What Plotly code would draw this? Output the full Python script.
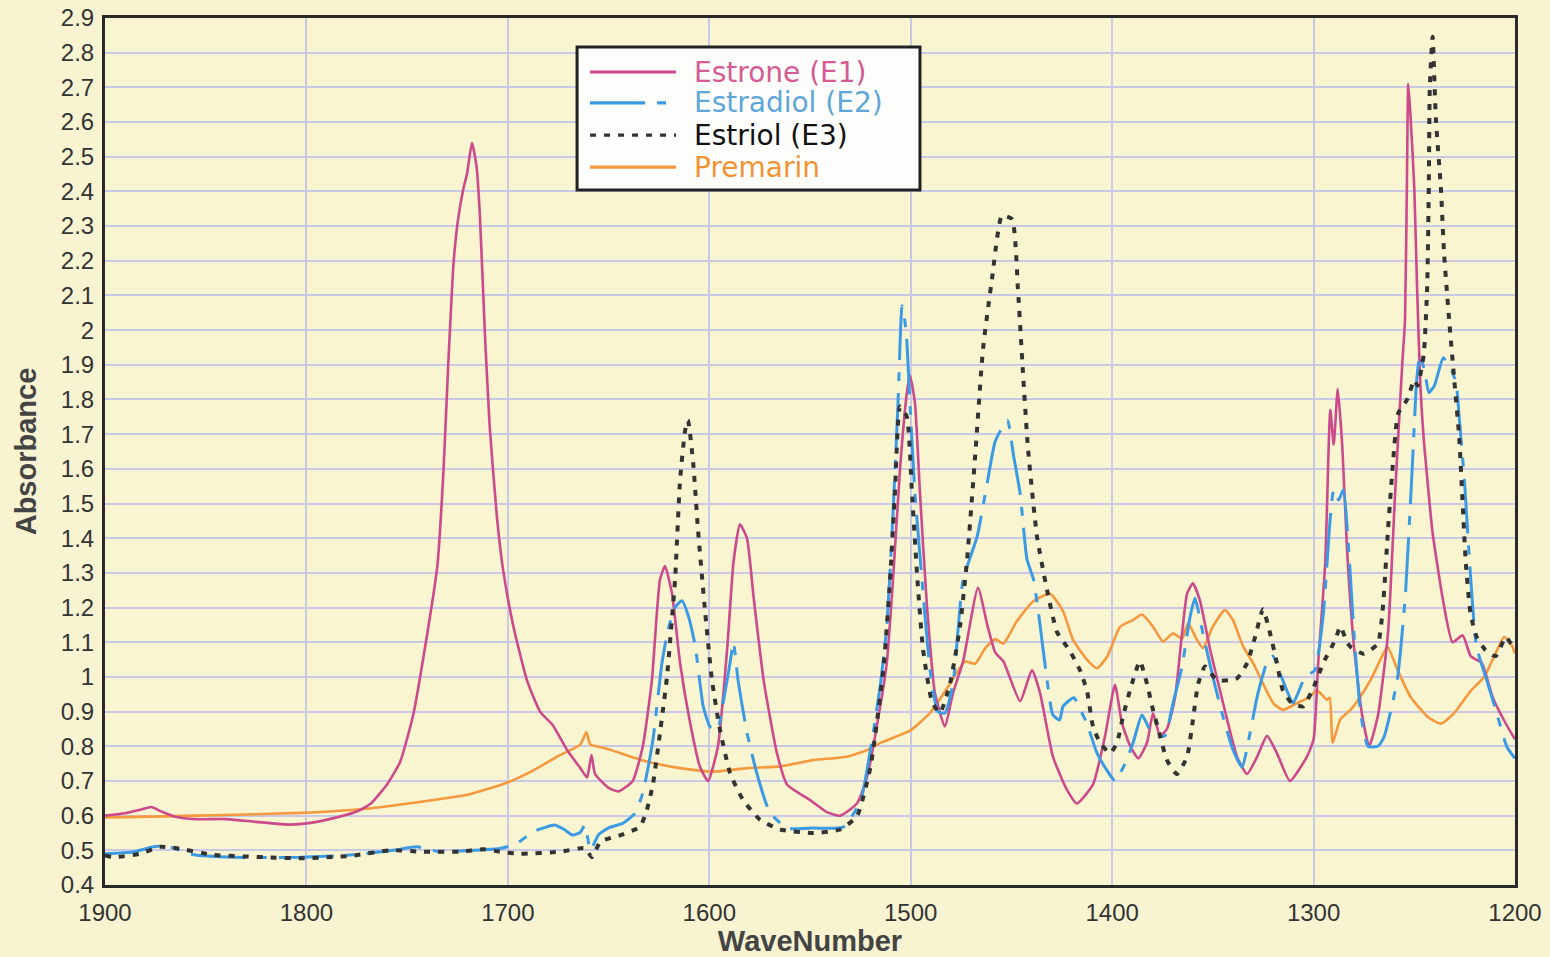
import plotly.graph_objects as go

# ---------------- data ----------------
e1_wn = [1900, 1890, 1882, 1877, 1872, 1865, 1855, 1840, 1825, 1808, 1795, 1785, 1775, 1768, 1760,
         1753.5, 1747, 1740, 1735, 1732, 1729.6, 1727, 1724.7, 1722, 1720.3, 1717.8, 1715.5, 1713.8,
         1711.4, 1709, 1705.4, 1702.4, 1697.4, 1690.5, 1684, 1677.6, 1670.7, 1664, 1660.7, 1658.5,
         1656.7, 1650, 1645, 1638, 1633, 1628.5, 1624.5, 1622, 1618.5, 1614.5, 1609.6, 1604.6, 1600.6,
         1595.7, 1591, 1588, 1584.8, 1581.3, 1578, 1573, 1566.4, 1561.4, 1550, 1541.6, 1535, 1526.7,
         1521.7, 1515, 1511.8, 1508.8, 1505.3, 1501.9, 1500.4, 1497.9, 1495.4, 1492, 1488, 1483, 1479,
         1474, 1466.6, 1462, 1458, 1454, 1445.7, 1439.8, 1435.8, 1429.4, 1422.4, 1417.5, 1409.5, 1403.5,
         1398.6, 1395.1, 1391, 1387, 1382.7, 1379.7, 1376.2, 1372.8, 1368.8, 1365.3, 1362.8, 1359.9,
         1356.4, 1351.4, 1344.9, 1338, 1333, 1328, 1323.1, 1318.2, 1311.7, 1303.3, 1300, 1297.7, 1294.2,
         1291.7, 1290, 1288, 1285.7, 1283.4, 1280, 1275.9, 1272.4, 1268, 1263, 1259.6, 1256, 1254.6,
         1253.5, 1253, 1251.8, 1250, 1248.6, 1247, 1245.5, 1244, 1241, 1236, 1231, 1226, 1222, 1216.5,
         1211, 1205, 1200]
e1_abs = [0.600, 0.607, 0.618, 0.625, 0.612, 0.597, 0.590, 0.590, 0.582, 0.574, 0.582, 0.595, 0.612,
          0.635, 0.690, 0.755, 0.890, 1.125, 1.32, 1.59, 1.90, 2.19, 2.32, 2.41, 2.45, 2.54, 2.47, 2.32,
          1.99, 1.72, 1.46, 1.31, 1.15, 0.99, 0.90, 0.86, 0.79, 0.737, 0.71, 0.775, 0.72, 0.68, 0.67,
          0.70, 0.80, 0.99, 1.28, 1.32, 1.24, 1.04, 0.87, 0.74, 0.70, 0.80, 1.09, 1.33, 1.44, 1.40, 1.23,
          0.99, 0.78, 0.69, 0.645, 0.61, 0.60, 0.635, 0.71, 0.92, 1.045, 1.28, 1.60, 1.82, 1.87, 1.79,
          1.53, 1.21, 0.954, 0.857, 0.954, 1.045, 1.257, 1.15, 1.07, 1.045, 0.93, 1.02, 0.954, 0.77,
          0.674, 0.635, 0.69, 0.83, 0.977, 0.866, 0.80, 0.765, 0.81, 0.895, 0.83, 0.85, 0.94, 1.125,
          1.24, 1.27, 1.22, 1.08, 0.924, 0.77, 0.72, 0.77, 0.83, 0.78, 0.70, 0.77, 0.82, 1.04, 1.33,
          1.77, 1.67, 1.83, 1.66, 1.37, 1.09, 0.89, 0.80, 0.89, 1.13, 1.52, 1.90, 2.03, 2.51, 2.71, 2.61,
          2.41, 2.12, 1.84, 1.70, 1.60, 1.42, 1.23, 1.10, 1.12, 1.06, 1.04, 0.94, 0.87, 0.82]

e2_wn = [1900, 1886, 1876, 1869, 1856, 1836, 1803, 1777, 1757, 1745, 1734, 1717, 1704, 1696, 1687.5,
         1682, 1677, 1672, 1668, 1664, 1661.7, 1659, 1655, 1650, 1642.8, 1636.9, 1633, 1628, 1623.5,
         1620.5, 1617, 1613.6, 1610.6, 1607, 1603, 1599.6, 1596, 1593, 1589.7, 1588, 1585.7, 1581.3,
         1576.3, 1570, 1561.4, 1548.5, 1533.6, 1525, 1520, 1515, 1511.8, 1508.8, 1506.3, 1504.3, 1502.3,
         1500.4, 1497.9, 1494.4, 1490.4, 1486.5, 1483, 1479, 1474, 1467, 1462, 1458, 1452, 1449, 1445.7,
         1442.3, 1439, 1435.8, 1432.3, 1429.4, 1426, 1424.4, 1419, 1414.5, 1412.5, 1407.5, 1402.5,
         1398.6, 1393.6, 1389.6, 1385.2, 1381.2, 1377.7, 1373.8, 1369.8, 1365.3, 1361.3, 1358.9, 1354.9,
         1350, 1345, 1340, 1335.5, 1331.6, 1327.6, 1322.6, 1320.1, 1316.6, 1313.2, 1310.2, 1304.2,
         1299.3, 1295.2, 1291.7, 1290, 1287.6, 1285.2, 1282.6, 1280, 1276.6, 1273, 1268, 1265, 1258.5,
         1254.5, 1251.3, 1248.8, 1247.2, 1244.6, 1242.8, 1240, 1235.6, 1231.6, 1229.2, 1227.6, 1225.1,
         1222.5, 1219.1, 1214, 1209, 1204, 1200]
e2_abs = [0.490, 0.495, 0.510, 0.512, 0.487, 0.480, 0.480, 0.487, 0.500, 0.510, 0.496, 0.500, 0.505,
          0.518, 0.554, 0.565, 0.573, 0.560, 0.544, 0.552, 0.573, 0.500, 0.545, 0.565, 0.578, 0.607,
          0.665, 0.818, 1.04, 1.135, 1.20, 1.22, 1.18, 1.09, 0.915, 0.856, 0.847, 0.93, 1.04, 1.10, 0.99,
          0.84, 0.72, 0.61, 0.564, 0.564, 0.567, 0.64, 0.79, 0.98, 1.15, 1.47, 1.79, 2.07, 2.00, 1.79,
          1.53, 1.28, 1.02, 0.90, 0.896, 0.98, 1.28, 1.405, 1.56, 1.68, 1.74, 1.64, 1.53, 1.34, 1.28,
          1.15, 0.99, 0.89, 0.876, 0.915, 0.94, 0.89, 0.866, 0.78, 0.73, 0.70, 0.75, 0.81, 0.89, 0.847,
          0.83, 0.83, 0.924, 1.03, 1.174, 1.227, 1.125, 1.00, 0.886, 0.79, 0.74, 0.837, 0.953, 1.05, 1.06,
          1.01, 0.96, 0.924, 1.00, 1.02, 1.18, 1.46, 1.54, 1.51, 1.54, 1.37, 1.13, 0.894, 0.80, 0.80,
          0.827, 0.99, 1.23, 1.57, 1.856, 1.93, 1.875, 1.82, 1.84, 1.92, 1.885, 1.846, 1.74, 1.567, 1.327,
          1.087, 0.99, 0.894, 0.798, 0.765]

e3_wn = [1900, 1896, 1882.6, 1872.7, 1864.3, 1846.4, 1819.6, 1803, 1778, 1758.5, 1742, 1723.8, 1712,
         1704, 1694, 1674, 1661.7, 1658.3, 1654, 1644, 1634.4, 1631, 1628, 1624.5, 1621, 1619.5, 1617,
         1614.5, 1612, 1610.6, 1608, 1605.6, 1602, 1598.7, 1594.7, 1589.7, 1583.3, 1574.8, 1564.9,
         1548.5, 1535, 1526.7, 1520, 1513.6, 1510.3, 1507.8, 1505.3, 1501.9, 1499.4, 1496.9, 1493.9,
         1489.4, 1485.5, 1480.5, 1475.5, 1472, 1468, 1464.1, 1459.6, 1454.7, 1449.7, 1446.7, 1444.3,
         1441.8, 1437.3, 1432.3, 1427.4, 1421, 1416, 1412.5, 1409.5, 1406, 1401, 1397.6, 1394.6, 1390.2,
         1386.2, 1382.7, 1379.7, 1376.2, 1372.8, 1367.8, 1362.8, 1359.9, 1357.3, 1353.9, 1347.9, 1338,
         1333, 1329, 1325.1, 1321.6, 1318.2, 1315.2, 1310.7, 1305.2, 1300, 1295.2, 1289.2, 1286.7,
         1283.4, 1281.7, 1275.1, 1268.1, 1265.6, 1263.1, 1260.6, 1258, 1253.5, 1250, 1248.4, 1245.3,
         1243.6, 1242.8, 1242.3, 1240.9, 1239.3, 1236.8, 1235.2, 1232.7, 1230.2, 1227.7, 1224.4, 1222,
         1219, 1214.6, 1209.6, 1204.6, 1202, 1200]
e3_abs = [0.485, 0.480, 0.490, 0.510, 0.506, 0.487, 0.480, 0.477, 0.484, 0.500, 0.496, 0.496, 0.503,
          0.496, 0.490, 0.496, 0.506, 0.480, 0.525, 0.544, 0.568, 0.616, 0.69, 0.837, 1.0, 1.10, 1.28,
          1.568, 1.71, 1.74, 1.617, 1.424, 1.184, 0.992, 0.848, 0.723, 0.646, 0.588, 0.56, 0.55, 0.56,
          0.598, 0.74, 1.02, 1.276, 1.534, 1.78, 1.75, 1.534, 1.30, 1.08, 0.928, 0.896, 0.98, 1.147, 1.34,
          1.637, 1.946, 2.15, 2.33, 2.32, 2.11, 1.88, 1.66, 1.405, 1.25, 1.13, 1.075, 1.02, 0.96, 0.857,
          0.81, 0.78, 0.81, 0.886, 0.98, 1.045, 0.98, 0.905, 0.83, 0.76, 0.72, 0.77, 0.876, 0.98, 1.03,
          0.99, 0.996, 1.04, 1.116, 1.195, 1.126, 1.04, 0.96, 0.924, 0.915, 0.97, 1.04, 1.107, 1.145,
          1.10, 1.087, 1.067, 1.096, 1.20, 1.42, 1.615, 1.76, 1.80, 1.856, 1.84, 1.93, 2.125, 2.41, 2.70,
          2.846, 2.61, 2.41, 2.22, 2.03, 1.86, 1.69, 1.327, 1.18, 1.115, 1.077, 1.06, 1.115, 1.096, 1.08]

pm_wn = [1900, 1870, 1840, 1803, 1770, 1737, 1720, 1700.5, 1687.5, 1674, 1664, 1661, 1659, 1652, 1644,
         1631, 1614.5, 1598, 1581.3, 1565, 1548.5, 1531.6, 1521.7, 1515, 1500.4, 1490.4, 1482, 1473,
         1468, 1463, 1458, 1454, 1447.4, 1439.2, 1430.8, 1424.4, 1419.4, 1412.5, 1407.5, 1402.5, 1396,
         1389.6, 1385.2, 1379.7, 1374.8, 1369.8, 1365.3, 1362.3, 1357.9, 1354.9, 1350, 1344, 1340, 1335,
         1330, 1325, 1320, 1315.2, 1308.3, 1301.8, 1298.4, 1293.4, 1292, 1290.5, 1286.7, 1281.7, 1278.3,
         1271.8, 1266.8, 1263.3, 1258.3, 1251.8, 1243.4, 1236.9, 1230.4, 1222, 1215.3, 1210.4, 1205.4,
         1202, 1200]
pm_abs = [0.595, 0.598, 0.602, 0.608, 0.620, 0.645, 0.660, 0.695, 0.730, 0.775, 0.805, 0.84, 0.805,
          0.795, 0.78, 0.756, 0.737, 0.727, 0.737, 0.742, 0.76, 0.77, 0.789, 0.81, 0.845, 0.896, 0.967,
          1.044, 1.038, 1.083, 1.109, 1.096, 1.16, 1.218, 1.24, 1.19, 1.107, 1.05, 1.025, 1.058, 1.145,
          1.164, 1.18, 1.145, 1.102, 1.126, 1.11, 1.155, 1.107, 1.083, 1.145, 1.193, 1.164, 1.088, 1.04,
          0.98, 0.924, 0.905, 0.924, 0.943, 0.962, 0.934, 0.94, 0.81, 0.878, 0.905, 0.93, 0.99, 1.05,
          1.087, 1.02, 0.942, 0.885, 0.865, 0.894, 0.96, 1.0, 1.058, 1.115, 1.096, 1.067]

series_names = ["Estrone (E1)", "Estradiol (E2)", "Estriol (E3)", "Premarin"]
line_colors = ["#cc4a8c", "#3b9ae4", "#333333", "#f5983e"]
text_colors = ["#d65a93", "#5ea6d8", "#111111", "#f39233"]
dashes = ["solid", "55px,12px,9px,12px", "6px,8px", "solid"]
widths = [2.6, 3.0, 4.0, 2.6]

x_ticks = [1900, 1800, 1700, 1600, 1500, 1400, 1300, 1200]

# ---------------- figure ----------------
fig = go.Figure()
data = [(e1_wn, e1_abs), (e2_wn, e2_abs), (e3_wn, e3_abs), (pm_wn, pm_abs)]
order = [3, 0, 1, 2]
for i in order:
    xs, ys = data[i]
    fig.add_trace(go.Scatter(
        x=xs, y=ys, mode="lines", name=series_names[i], showlegend=False,
        line=dict(color=line_colors[i], width=widths[i], dash=dashes[i],
                  shape="spline", smoothing=0.5)))

# custom legend box (paper coordinates)
shapes = [dict(type="rect", xref="paper", yref="paper", x0=0.3348, x1=0.578, y0=0.8016, y1=0.9666,
               fillcolor="#fdfdfb", line=dict(color="#222222", width=3), layer="above")]
annotations = []
rows_y = [0.9377, 0.902, 0.865, 0.828]
for i in range(4):
    shapes.append(dict(type="line", xref="paper", yref="paper", x0=0.344, x1=0.405,
                       y0=rows_y[i], y1=rows_y[i], layer="above",
                       line=dict(color=line_colors[i], width=3.2, dash=dashes[i])))
    annotations.append(dict(xref="paper", yref="paper", x=0.4163, y=rows_y[i], xanchor="left",
                            yanchor="middle", showarrow=False, text=series_names[i],
                            font=dict(family="DejaVu Sans", size=28, color=text_colors[i])))

fig.update_layout(
    width=1550, height=957,
    margin=dict(l=105, r=35, t=18, b=72),
    paper_bgcolor="#f8f4d2",
    plot_bgcolor="#f8f5d0",
    shapes=shapes,
    annotations=annotations,
    showlegend=False,
)
fig.update_xaxes(
    range=[1900, 1200], tickvals=x_ticks, showgrid=True, gridcolor="#c9c9e6", gridwidth=2,
    showline=True, mirror=True, linecolor="#2a2a2a", linewidth=3, zeroline=False, ticks="",
    ticklabelstandoff=4,
    tickfont=dict(family="Liberation Sans", size=24, color="#333333"),
    title=dict(text="<b>WaveNumber</b>", standoff=5,
               font=dict(family="Liberation Sans", size=29, color="#444444")),
    automargin=False,
)
fig.update_yaxes(
    range=[0.4, 2.9], dtick=0.1, tick0=0.4, showgrid=True, gridcolor="#c9c9e6", gridwidth=2,
    showline=True, mirror=True, linecolor="#2a2a2a", linewidth=3, zeroline=False, ticks="",
    ticklabelstandoff=3,
    tickfont=dict(family="Liberation Sans", size=24, color="#333333"),
    title=dict(text="<b>Absorbance</b>", standoff=16,
               font=dict(family="Liberation Sans", size=29, color="#444444")),
    automargin=False,
)

fig.write_html("out.html", config={"displayModeBar": False},
               post_script="document.body.style.margin='0';document.body.style.background='#f8f4d2';")
